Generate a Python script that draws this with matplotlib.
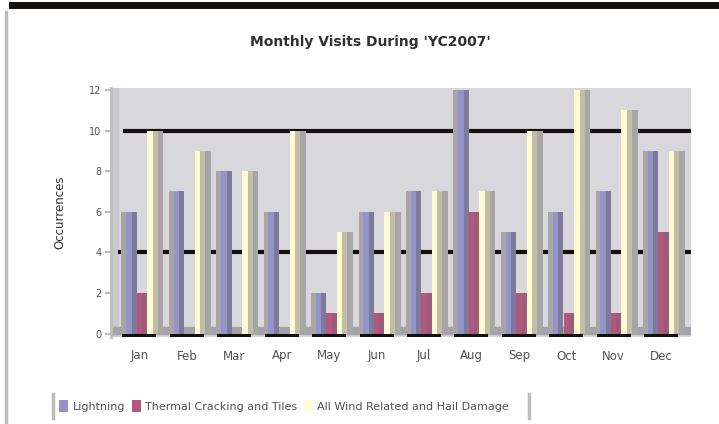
import matplotlib
matplotlib.use("Agg")
import matplotlib.pyplot as plt
from matplotlib.lines import Line2D
from matplotlib.patches import Patch
import numpy as np

# chart data
months = ["Jan", "Feb", "Mar", "Apr", "May", "Jun",
          "Jul", "Aug", "Sep", "Oct", "Nov", "Dec"]
lightning = [6, 7, 8, 6, 2, 6, 7, 12, 5, 6, 7, 9]
thermal = [2, 0, 0, 0, 1, 1, 2, 6, 2, 1, 1, 5]
wind = [10, 9, 8, 10, 5, 6, 7, 7, 10, 12, 11, 9]
series_names = ["Lightning", "Thermal Cracking and Tiles",
                "All Wind Related and Hail Damage"]
yticks = [0, 2, 4, 6, 8, 10, 12]
ref_lines = [10, 4]

fronts = ["#9494C8", "#B4577F", "#FFFBD5"]
sides = ["#7E7A9C", "#9A5C78", "#C4BDA5"]
shade = "#A8A4A8"

fig = plt.figure(figsize=(7.19, 4.24), dpi=100)
W, H = 719.0, 424.0
ax = fig.add_axes([111 / W, 1 - 337 / H, (691 - 111) / W, (337 - 88) / H])

x = np.arange(len(months))
fw, sw, step = 0.116, 0.105, 0.222
xl = (-0.60, 11.63)
ax.set_xlim(*xl)
ax.set_ylim(-0.17, 12.1)
ax.set_facecolor("#D8D8DC")

# side wall and floor
ax.axvspan(xl[0], -0.45, color="#C9C9CD", zorder=0)
ax.axhspan(0, 0.3, color="#A4A4A8", zorder=0.5)
ax.hlines(ref_lines[0], -0.35, xl[1], color="#14100E", lw=3, zorder=1)
ax.hlines(ref_lines[1], -0.45, xl[1], color="#14100E", lw=3, zorder=1)

data = [lightning, thermal, wind]
for i, vals in enumerate(data):
    pos = x + (i - 1) * step
    vals = np.array(vals)
    if i == 0:
        ax.bar(pos - fw / 2 - 0.05, vals, width=0.1, color=shade, zorder=2)
    if i == 2:
        ax.bar(pos + fw / 2 + sw + 0.06, vals, width=0.12, color=shade, zorder=2)
    ax.bar(pos + fw / 2 + sw / 2, vals, width=sw, color=sides[i], zorder=3)
    ax.bar(pos, vals, width=fw, color=fronts[i], zorder=3)

# dark base under each group
ax.bar(x, -0.17, width=3 * step + 0.05, bottom=0, color="#14100E", zorder=3)

for s in ["top", "right", "bottom"]:
    ax.spines[s].set_visible(False)
ax.spines["left"].set_color("#C0BCBC")
ax.spines["left"].set_linewidth(2)
ax.set_yticks(yticks)
ax.set_yticklabels([str(v) for v in yticks], fontsize=7, color="#555050")
ax.tick_params(axis="y", length=4, width=1.5, color="#C0BCBC", pad=3)
ax.set_xticks(x)
ax.set_xticklabels(months, fontsize=8.5, color="#555050")
ax.tick_params(axis="x", length=0, pad=9)
ax.set_ylabel("Occurrences", fontsize=8.5, color="#333030", labelpad=16)

fig.text(0.515, 1 - 42 / H, "Monthly Visits During 'YC2007'", ha="center",
         va="center", fontsize=10, fontweight="bold", color="#333030")

# outer frame pieces
fig.add_artist(Line2D([12 / W, 1], [1 - 5 / H, 1 - 5 / H], color="#14100E", lw=5))
fig.add_artist(Line2D([6 / W, 6 / W], [0, 1 - 12 / H], color="#C0BCBC", lw=2.5))

handles = [Patch(facecolor=fronts[i], edgecolor="none") for i in range(3)]
leg = fig.legend(handles, series_names, loc="center left", ncol=3,
                 bbox_to_anchor=(57 / W, 1 - 406 / H), frameon=False,
                 fontsize=8.0, handlelength=0.8, handleheight=1.3,
                 handletextpad=0.4, columnspacing=0.6, borderaxespad=0,
                 borderpad=0.2)
for t in leg.get_texts():
    t.set_color("#555050")
fig.add_artist(Line2D([53 / W, 53 / W], [1 - 418 / H, 1 - 394 / H], color="#C0BCBC", lw=2.5))
fig.add_artist(Line2D([529 / W, 529 / W], [1 - 418 / H, 1 - 394 / H], color="#C0BCBC", lw=2.5))

fig.savefig("out.png", dpi=100)
